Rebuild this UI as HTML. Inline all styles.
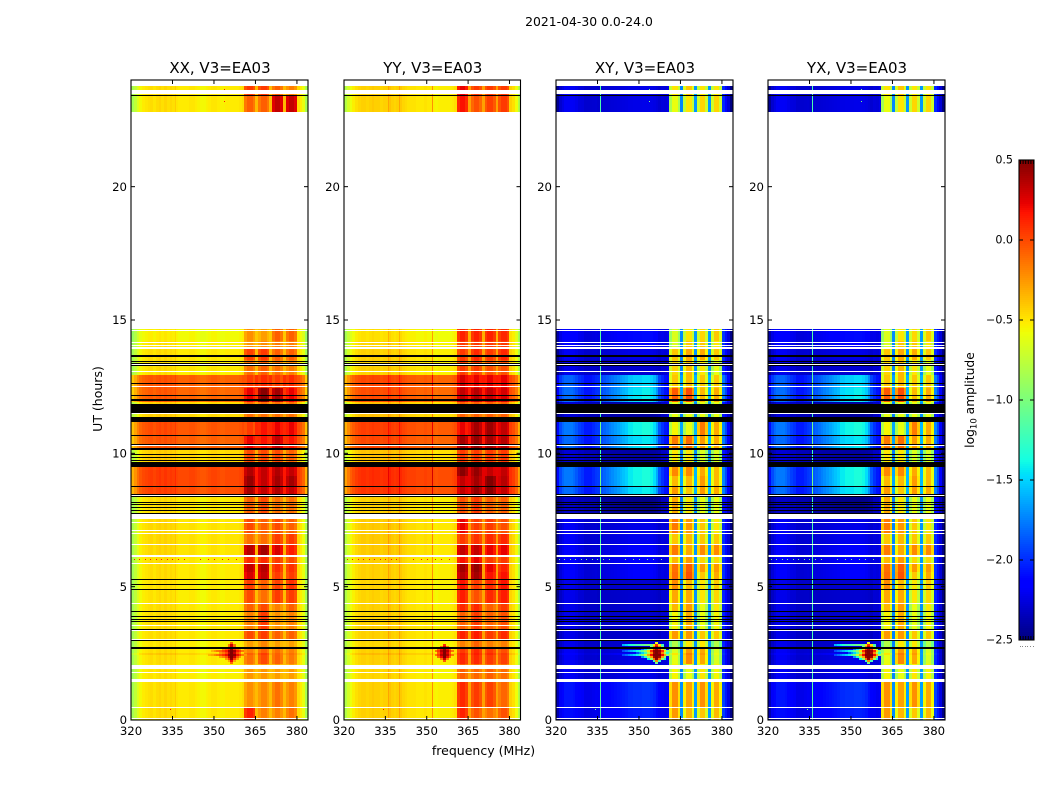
<!DOCTYPE html>
<html lang="en">
<head>
<meta charset="utf-8">
<title>2021-04-30 0.0-24.0</title>
<style>
html,body{margin:0;padding:0;background:#fff;width:1050px;height:800px;overflow:hidden}
svg{display:block}
text{font-family:"DejaVu Sans","Liberation Sans",sans-serif;fill:#000}
</style>
</head>
<body>
<svg id="chart" xmlns="http://www.w3.org/2000/svg" width="1050" height="800" viewBox="0 0 1050 800">
<rect x="0" y="0" width="1050" height="800" fill="#fff"/>
<text x="589" y="26" font-size="12.4" text-anchor="middle">2021-04-30 0.0-24.0</text>
<text x="102" y="399" font-size="12.5" text-anchor="middle" transform="rotate(-90 102 399)">UT (hours)</text>
<text x="483.5" y="755" font-size="12.5" text-anchor="middle">frequency (MHz)</text>
<text x="974" y="400" font-size="12.3" text-anchor="middle" transform="rotate(-90 974 400)">log<tspan font-size="8.5" dy="2.5">10</tspan><tspan dy="-2.5"> amplitude</tspan></text>
<g id="panels"></g>
<g id="colorbar"></g>
</svg>
<script>
// ---------- value-axis range ----------
const colorMin = -2.5;
const colorMax = 0.5;
const colorbarTicks = [0.5, 0, -0.5, -1, -1.5, -2, -2.5];
const freqMin = 320;
const freqMax = 384;
const hourMin = 0;
const hourMax = 24;
const freqTicks = [320, 335, 350, 365, 380];
const hourTicks = [0, 5, 10, 15, 20];
const panelTitles = ['XX, V3=EA03', 'YY, V3=EA03', 'XY, V3=EA03', 'YX, V3=EA03'];

// ---------- spectra: one value per 1 MHz channel, 320..383 ----------
const xxSpectrum = [
 -.85,-.75,-.64,-.56,-.52,-.5,-.48,-.47,-.5,-.47,
 -.45,-.48,-.45,-.48,-.46,-.48,-.5,-.52,-.52,-.52,
 -.52,-.5,-.5,-.52,-.54,-.56,-.56,-.54,-.52,-.5,
 -.5,-.52,-.54,-.54,-.52,-.52,-.52,-.52,-.52,-.5,
 -.47,0,0,0,0,-.36,0,0,0,0,
 -.36,0,0,0,0,-.36,0,0,0,0,
 -.47,-.52,-.6,-.85];
const yySpectrum = [
 -.8,-.68,-.59,-.53,-.48,-.45,-.43,-.43,-.45,-.43,
 -.41,-.43,-.43,-.45,-.43,-.43,-.39,-.43,-.45,-.43,
 -.41,-.45,-.47,-.49,-.49,-.49,-.51,-.51,-.51,-.49,
 -.51,-.51,-.53,-.55,-.53,-.53,-.53,-.53,-.53,-.51,
 -.48,0,0,0,0,-.28,0,0,0,0,
 -.28,0,0,0,0,-.28,0,0,0,0,
 -.43,-.48,-.58,-.8];
const crossSpectrum = [
 -2.5,-2.35,-2.3,-2.25,-2.25,-2.25,-2.25,-2.27,-2.3,-2.3,
 -2.33,-2.33,-2.33,-2.33,-2.33,-2.35,-2.35,-2.35,-2.35,-2.35,
 -2.35,-2.35,-2.35,-2.35,-2.35,-2.35,-2.35,-2.35,-2.35,-2.35,
 -2.35,-2.35,-2.35,-2.35,-2.35,-2.35,-2.35,-2.35,-2.3,-2.3,
 -2.25,0,0,0,0,-1.75,0,0,0,0,
 -1.7,0,0,0,0,-1.7,0,0,0,0,
 -2.05,-2.15,-2.3,-2.5];
const crossGain = [
 .5,.55,.6,.6,.6,.6,.55,.5,.45,.4,
 .35,.35,.35,.4,.45,.5,.6,.65,.7,.75,
 .8,.85,.9,.95,1,1.05,1.15,1.15,1.2,1.2,
 1.2,1.25,1.25,1.25,1.2,1.1,.9,.6,.4,.3,
 .2,0,0,0,0,.15,0,0,0,0,
 .15,0,0,0,0,.15,0,0,0,0,
 .4,.3,.2,.1];

// ---------- sub-bands in the strong-signal region ----------
const subbandStart = [361, 366, 371, 376];
const subbandWidth = 4;
const crossBandShape = [-.25, 0, 0, -.25];
const parallelBandShape = [-.05, .03, .03, -.05];

// ---------- time segments (hours) ----------
const rowStart = [0,.45,1.45,2.1,2.44,2.52,2.72,3.0,3.4,4.07,4.37,4.9,5.28,5.55,5.87,6.17,6.58,7.0,7.53,8.47,8.76,9.15,9.5,10.2,10.67,11.2,11.5,11.94,12.45,12.93,13.5,13.95,14.2,22.8,23.43];
const rowEnd = [.45,1.45,2.1,2.44,2.52,2.72,3.0,3.4,4.07,4.37,4.9,5.28,5.55,5.87,6.17,6.58,7.0,7.53,8.47,8.76,9.15,9.5,10.2,10.67,11.2,11.5,11.94,12.45,12.93,13.5,13.95,14.2,14.66,23.43,23.77];
const parallelLevel = [0,0,-.02,0,.07,0,-.02,0,0,0,-.01,-.01,0,0,0,.02,.02,.02,0,.5,.52,.52,.05,.44,.47,.05,.05,.42,.44,0,0,-.02,-.05,0,0];
const crossLevel = [.25,.3,.1,.1,.18,.1,.05,.05,.05,.05,.05,.05,.15,.15,.15,.15,.12,.1,-.1,.75,.8,.8,-.05,.73,.8,-.05,-.05,.75,.7,.05,.1,.15,.2,.1,.1];
const xxBands = [
 [.1,-.2,-.2,-.15],[-.25,-.22,-.15,-.2],[-.28,-.28,-.3,-.3],[-.15,-.03,-.1,-.18],[-.1,.02,-.1,-.15],
 [-.2,-.1,-.15,-.2],[-.3,-.22,-.3,-.3],[-.03,.02,-.1,-.1],[-.2,.02,-.25,-.2],[-.1,-.03,-.2,-.1],
 [-.03,-.15,.02,.02],[.02,-.1,0,.05],[.25,.3,.02,.02],[.3,.33,.07,.05],[.07,.07,.02,-.03],
 [.33,.38,.25,.12],[-.15,-.15,.02,.02],[-.03,-.1,-.03,-.1],[-.1,-.03,-.15,-.15],[.38,.3,.35,.3],
 [.42,.3,.38,.38],[.35,.3,.35,.3],[-.03,-.03,-.03,-.1],[.2,.15,.3,.15],[.02,.15,.2,.2],
 [-.15,-.15,-.15,-.15],[-.15,-.15,-.15,-.15],[.2,.45,.38,.2],[.02,.07,.02,.07],[-.15,-.1,-.15,-.2],
 [0,.02,-.1,-.1],[-.28,-.25,-.2,-.2],[-.25,-.3,-.1,-.1],[-.1,-.1,.3,.3],[.02,.02,-.1,-.2]];
const yyBands = [
 [.1,-.05,-.15,-.05],[.08,.02,0,-.12],[-.1,-.12,-.1,-.15],[.08,.08,.02,0],[.1,.12,.08,.02],
 [.02,.08,.02,-.05],[-.2,-.1,-.2,-.2],[.1,.12,.02,.08],[-.1,.02,-.1,-.05],[.08,.08,-.1,.02],
 [.12,-.05,.08,.12],[.15,.02,.08,.15],[.33,.38,.15,.15],[.38,.42,.2,.1],[.15,.2,.02,.02],
 [.3,.3,.2,.2],[.02,.05,.08,.08],[.2,.02,.02,-.05],[-.05,.02,-.1,-.1],[.3,.42,.45,.3],
 [.3,.38,.48,.33],[.45,.42,.3,.3],[.02,.02,.02,.02],[.38,.42,.38,.33],[.2,.38,.4,.3],
 [-.1,-.1,-.1,-.1],[-.1,-.1,-.1,-.1],[.3,.33,.3,.25],[.25,.2,.2,.2],[.02,.02,-.05,-.05],
 [.02,.08,.02,.08],[.02,.02,.02,.02],[.1,.1,.1,.08],[.15,-.05,0,.02],[.2,.02,.02,.02]];
const crossBands = [
 [-.25,-.35,-.4,-.35],[-.22,-.28,-.22,-.3],[-.55,-.6,-.5,-.55],[-.6,-.2,-.3,-.65],[-.5,-.15,-.25,-.6],
 [-.65,-.25,-.3,-.65],[-.8,-.5,-.5,-.8],[-.25,-.25,-.4,-.4],[-.55,-.3,-.6,-.55],[-.35,-.25,-.6,-.5],
 [-.3,-.3,-.5,-.45],[-.2,-.35,-.5,-.4],[-.1,-.02,-.4,-.3],[-.12,-.05,-.25,-.25],[-.35,-.25,-.45,-.45],
 [-.15,-.3,-.2,-.2],[-.4,-.35,-.4,-.4],[-.15,-.25,-.4,-.5],[-.3,-.5,-.6,-.6],[-.25,-.4,-.25,-.3],
 [-.35,-.35,-.25,-.35],[-.2,-.2,-.3,-.35],[-.5,-.5,-.65,-.65],[-.15,-.1,-.25,-.3],[-.55,-.6,-.15,-.3],
 [-.6,-.6,-.6,-.6],[-.6,-.6,-.6,-.6],[-.05,0,-.35,-.3],[-.4,-.35,-.4,-.4],[-.45,-.35,-.5,-.6],
 [-.4,-.3,-.3,-.4],[-.65,-.4,-.4,-.5],[-.65,-.5,-.45,-.4],[-.6,-.5,-.45,-.45],[-.5,-.4,-.5,-.5]];

// ---------- narrow interference lines: frequency and value change ----------
const xxSpikeFreqs = [336];
const xxSpikeDeltas = [.08];
const yySpikeFreqs = [336, 340, 352];
const yySpikeDeltas = [.1, .12, .3];
const crossSpikeFreqs = [336];
const crossSpikeValues = [-1.2];

// ---------- isolated specks ----------
const speckFreqs = [321,323,325,327,329,331,333,335,337,339,345,348,350,353,355,358,353.5,353.5,334];
const speckHours = [6.02,6.02,6.02,6.02,6.02,6.02,6.02,6.02,6.02,6.02,6.02,6.02,6.02,6.02,6.02,6.02,23.65,23.2,.41];

// ---------- burst of emission near 2.5 h ----------
const _ = null;
const burstCenter = 356.4;
const burstRowHeight = .075;
const burstRowHours = [2.1,2.175,2.25,2.325,2.4,2.475,2.55,2.625,2.7,2.775,2.85];
const xxBurstOffsets = [-8,-7,-6,-5,-4,-3,-2,-1,0,1,2,3,4,5];
const xxBurst = [
 [_,_,_,_,_,_,_,_,-.1,_,_,_,_,_],
 [_,_,_,_,_,_,_,-.3,.2,-.3,_,_,_,_],
 [_,_,_,_,_,_,-.25,.05,.45,.05,-.25,_,_,_],
 [_,_,_,_,-.3,-.2,-.05,.3,.5,.3,-.05,-.25,_,_],
 [-.35,-.3,-.2,-.12,-.02,.08,.2,.45,.5,.45,.2,.05,-.15,-.25],
 [_,_,_,_,-.25,-.15,0,.3,.5,.3,0,-.15,_,_],
 [_,-.35,-.25,-.15,-.1,.02,.15,.4,.5,.4,.15,.02,-.15,_],
 [_,_,_,_,_,-.25,-.1,.1,.45,.1,-.1,-.25,_,_],
 [_,_,_,_,_,_,_,-.1,.3,-.1,_,_,_,_],
 [_,_,_,_,_,_,_,-.15,.3,-.15,_,_,_,_],
 [_,_,_,_,_,_,_,_,-.1,_,_,_,_,_]];
const yyBurstOffsets = [-3,-2,-1,0,1,2,3];
const yyBurst = [
 [_,_,_,_,_,_,_],
 [_,_,_,-.05,_,_,_],
 [_,_,-.15,.3,-.15,_,_],
 [_,-.1,.2,.5,.2,-.1,_],
 [-.15,.05,.35,.5,.35,.05,-.15],
 [_,-.05,.25,.5,.25,-.05,_],
 [-.15,.05,.35,.5,.35,.05,-.15],
 [_,-.1,.2,.45,.2,-.1,_],
 [_,_,-.1,.3,-.1,_,_],
 [_,_,_,.1,_,_,_],
 [_,_,_,_,_,_,_]];
const crossBurstOffsets = [-12,-11,-10,-9,-8,-7,-6,-5,-4,-3,-2,-1,0,1,2,3,4];
const crossBurst = [
 [_,_,_,_,_,_,_,_,_,_,_,_,-1,_,_,_,_],
 [_,_,_,_,_,_,_,_,_,_,_,-1.2,-.2,-1.2,_,_,_],
 [_,_,_,_,_,_,_,_,_,-1.4,-.9,-.1,.45,-.1,-.9,-1.4,_],
 [_,_,_,_,_,_,_,-1.7,-1.3,-.8,-.3,.4,.5,.4,-.3,-1,_],
 [-1.9,-1.8,-1.7,-1.6,-1.5,-1.4,-1.2,-1,-.7,-.3,.2,.5,.5,.5,.2,-.3,-.9],
 [_,_,_,_,_,-1.9,-1.7,-1.5,-1.2,-.8,-.2,.4,.5,.4,-.2,-.8,-1.3],
 [-1.9,-1.8,-1.7,-1.6,-1.5,-1.4,-1.3,-1.1,-.9,-.5,.1,.45,.5,.45,.1,-.5,-1],
 [_,_,_,_,_,_,_,-1.8,-1.5,-1.1,-.5,.1,.4,.1,-.5,-1.1,_],
 [_,_,_,_,_,_,_,_,_,_,-1,-.2,.3,-.2,-1,_,_],
 [-1.6,-1.5,-1.4,-1.3,-1.25,-1.2,-1.15,-1.1,-1.05,-1,-1,-.5,.1,-.5,-1.2,_,_],
 [_,_,_,_,_,_,_,_,_,_,_,_,-.6,_,_,_,_]];

// ---------- flagged time ranges [start, end] hours ----------
const blackFlags = [[2.67,2.73],[2.95,2.99],[3.38,3.42],[3.68,3.72],[3.75,3.79],[3.86,3.9],[4.05,4.09],[4.88,4.92],[5.06,5.1],[5.24,5.3],[7.73,7.77],[7.84,7.88],[7.94,7.98],[8.05,8.09],[8.15,8.19],[8.36,8.4],[8.44,8.48],[8.74,8.78],[9.48,9.68],[9.71,9.75],[9.83,9.87],[9.94,9.98],[10.13,10.2],[10.31,10.35],[10.65,10.69],[11.17,11.35],[11.5,11.85],[11.98,12.02],[12.14,12.18],[12.6,12.64],[13.28,13.32],[13.35,13.39],[13.41,13.45],[13.62,13.7],[23.41,23.45]];
const whiteFlags = [[.05,.09],[.45,.49],[1.43,1.52],[1.76,1.8],[1.9,2.08],[3,3.04],[3.34,3.38],[3.53,3.57],[4.35,4.39],[5.85,5.89],[6.1,6.14],[6.15,6.19],[6.56,6.6],[6.98,7.02],[7.08,7.12],[7.39,7.43],[7.53,7.72],[8.12,8.16],[8.4,8.44],[10.28,10.32],[11.48,11.52],[12.49,12.53],[13.04,13.08],[13.31,13.35],[13.93,13.97],[14.01,14.05],[14.13,14.17],[14.59,14.63],[23.46,23.62]];

// ---------- layout ----------
const plotTop = 80;
const plotBottom = 720;
const panelLeft = [131, 344, 556, 768];
const panelRight = [308, 520.5, 733, 945];
const cbLeft = 1019, cbRight = 1034, cbTop = 160, cbBottom = 640;
const SVGNS = 'http://www.w3.org/2000/svg';

function lerpStops(t, xs, ys) {
  for (let i = 1; i < xs.length; i++) {
    if (t <= xs[i]) return ys[i-1] + (ys[i]-ys[i-1]) * (t-xs[i-1]) / (xs[i]-xs[i-1]);
  }
  return ys[ys.length-1];
}
function jet(v) {
  const t = Math.max(0, Math.min(1, (v - colorMin) / (colorMax - colorMin)));
  const r = lerpStops(t, [0,.35,.66,.89,1], [0,0,1,1,.5]);
  const g = lerpStops(t, [0,.125,.375,.64,.91,1], [0,0,1,1,0,0]);
  const b = lerpStops(t, [0,.11,.34,.65,1], [.5,1,1,0,0]);
  return 'rgb(' + Math.round(r*255) + ',' + Math.round(g*255) + ',' + Math.round(b*255) + ')';
}
function xScale(p, f) { return panelLeft[p] + (f - freqMin) / (freqMax - freqMin) * (panelRight[p] - panelLeft[p]); }
function yScale(h) { return plotBottom - (h - hourMin) / (hourMax - hourMin) * (plotBottom - plotTop); }
function bandOf(f) {
  for (let i = 0; i < subbandStart.length; i++) {
    if (f >= subbandStart[i] && f < subbandStart[i] + subbandWidth) return i;
  }
  return -1;
}
function cellValue(p, ch, r) {
  const f = freqMin + ch;
  const b = bandOf(f);
  if (p === 0) return b >= 0 ? xxBands[r][b] + parallelBandShape[f - subbandStart[b]] : xxSpectrum[ch] + parallelLevel[r];
  if (p === 1) return b >= 0 ? yyBands[r][b] + parallelBandShape[f - subbandStart[b]] : yySpectrum[ch] + parallelLevel[r];
  if (b >= 0) return crossBands[r][b] + crossBandShape[f - subbandStart[b]];
  return crossSpectrum[ch] + crossGain[ch] * crossLevel[r];
}
function addRect(parent, x0, x1, y0, y1, fill) {
  const el = document.createElementNS(SVGNS, 'rect');
  const xa = Math.round(x0), xb = Math.round(x1), ya = Math.round(y0), yb = Math.round(y1);
  el.setAttribute('x', xa);
  el.setAttribute('y', ya);
  el.setAttribute('width', Math.max(1, xb - xa));
  el.setAttribute('height', Math.max(1, yb - ya));
  el.setAttribute('fill', fill);
  el.setAttribute('shape-rendering', 'crispEdges');
  parent.appendChild(el);
  return el;
}
function addLine(parent, x1, y1, x2, y2, color, width) {
  const el = document.createElementNS(SVGNS, 'line');
  el.setAttribute('x1', x1);
  el.setAttribute('y1', y1);
  el.setAttribute('x2', x2);
  el.setAttribute('y2', y2);
  el.setAttribute('stroke', color || '#000');
  el.setAttribute('stroke-width', width || 1);
  parent.appendChild(el);
  return el;
}
function addText(parent, x, y, str, anchor, size) {
  const el = document.createElementNS(SVGNS, 'text');
  el.setAttribute('x', x);
  el.setAttribute('y', y);
  el.setAttribute('text-anchor', anchor);
  el.setAttribute('font-size', size);
  el.textContent = str;
  parent.appendChild(el);
  return el;
}

function drawPanel(p) {
  const root = document.getElementById('panels');
  const g = document.createElementNS(SVGNS, 'g');
  
  
  root.appendChild(g);

  // heatmap cells
  for (let r = 0; r < rowStart.length; r++) {
    for (let ch = 0; ch < freqMax - freqMin; ch++) {
      const cell = addRect(g, xScale(p, freqMin + ch), xScale(p, freqMin + ch + 1), yScale(rowEnd[r]), yScale(rowStart[r]), jet(cellValue(p, ch, r)));
      
      
    }
    // narrow interference lines
    const freqs = p === 0 ? xxSpikeFreqs : p === 1 ? yySpikeFreqs : crossSpikeFreqs;
    for (let s = 0; s < freqs.length; s++) {
      const ch = Math.floor(freqs[s]) - freqMin;
      let val;
      if (p === 0) val = xxSpectrum[ch] + parallelLevel[r] + xxSpikeDeltas[s];
      else if (p === 1) val = yySpectrum[ch] + parallelLevel[r] + yySpikeDeltas[s];
      else val = crossSpikeValues[s] + crossLevel[r] * 0.2;
      const sx = xScale(p, freqs[s]);
      const spike = addRect(g, sx, sx + 1, yScale(rowEnd[r]), yScale(rowStart[r]), jet(val));
      
      
    }
  }

  // burst
  const burst = p === 0 ? xxBurst : p === 1 ? yyBurst : crossBurst;
  const offsets = p === 0 ? xxBurstOffsets : p === 1 ? yyBurstOffsets : crossBurstOffsets;
  for (let r = 0; r < burst.length; r++) {
    for (let c = 0; c < offsets.length; c++) {
      if (burst[r][c] === null) continue;
      const f = burstCenter + offsets[c];
      const cell = addRect(g, xScale(p, f - .5), xScale(p, f + .5), yScale(burstRowHours[r] + burstRowHeight), yScale(burstRowHours[r]), jet(burst[r][c]));
      
      
    }
  }

  // specks
  for (let s = 0; s < speckFreqs.length; s++) {
    if (p === 1 && speckHours[s] > 7) continue;
    const sx = xScale(p, speckFreqs[s]);
    const sy = yScale(speckHours[s]);
    const speck = addRect(g, sx, sx + 1, sy, sy + 1, jet(p < 2 ? .15 : -1));
    
    
  }

  // flagged ranges
  whiteFlags.forEach(function (fl) {
    const el = addRect(g, panelLeft[p], panelRight[p], yScale(fl[1]), yScale(fl[0]), '#fff');
    
    
  });
  blackFlags.forEach(function (fl) {
    const el = addRect(g, panelLeft[p], panelRight[p], yScale(fl[1]), yScale(fl[0]), '#000');
    
    
  });

  // frame
  const frame = document.createElementNS(SVGNS, 'rect');
  
  
  frame.setAttribute('x', panelLeft[p]);
  frame.setAttribute('y', plotTop);
  frame.setAttribute('width', panelRight[p] - panelLeft[p]);
  frame.setAttribute('height', plotBottom - plotTop);
  frame.setAttribute('fill', 'none');
  frame.setAttribute('stroke', '#000');
  frame.setAttribute('stroke-width', '1.1');
  g.appendChild(frame);

  // ticks and labels
  freqTicks.forEach(function (f) {
    const x = xScale(p, f);
    const t1 = addLine(g, x, plotBottom, x, plotBottom - 4);
    
    
    const t2 = addLine(g, x, plotTop, x, plotTop + 4);
    
    
    const label = addText(g, x, 735, String(f), 'middle', 11.7);
    
    
  });
  hourTicks.forEach(function (h) {
    const y = yScale(h);
    const t1 = addLine(g, panelLeft[p], y, panelLeft[p] + 4, y);
    
    
    const t2 = addLine(g, panelRight[p], y, panelRight[p] - 4, y);
    
    
    const label = addText(g, panelLeft[p] - 4, y + 4.2, String(h), 'end', 11.7);
    
    
  });
  const title = addText(g, (panelLeft[p] + panelRight[p]) / 2 + .5, 73, panelTitles[p], 'middle', 15);
  
  
}

function drawColorbar() {
  const g = document.getElementById('colorbar');
  const cbScale = function (v) { return cbBottom - (v - colorMin) / (colorMax - colorMin) * (cbBottom - cbTop); };
  for (let py = cbTop; py < cbBottom; py += 2) {
    const seg = addRect(g, cbLeft, cbRight, py, py + 2, jet(colorMax - (py + 1 - cbTop) / (cbBottom - cbTop) * (colorMax - colorMin)));
    
    
  }
  const frame = document.createElementNS(SVGNS, 'rect');
  
  
  frame.setAttribute('x', cbLeft);
  frame.setAttribute('y', cbTop);
  frame.setAttribute('width', cbRight - cbLeft);
  frame.setAttribute('height', cbBottom - cbTop);
  frame.setAttribute('fill', 'none');
  frame.setAttribute('stroke', '#000');
  frame.setAttribute('stroke-width', '1.1');
  g.appendChild(frame);
  colorbarTicks.forEach(function (v) {
    const y = cbScale(v);
    const t1 = addLine(g, cbLeft, y, cbLeft + 4, y);
    
    
    const t2 = addLine(g, cbRight, y, cbRight - 4, y);
    
    
    const label = addText(g, 1013, y + 3.5, (v < 0 ? '\u2212' : '') + Math.abs(v).toFixed(1), 'end', 11.1);
    
    
  });
  for (let i = 0; i < 6; i++) {
    const x = cbLeft + 1.5 + i * 2.6;
    const t1 = addLine(g, x, cbTop, x, cbTop + 4);
    
    
    const t2 = addLine(g, x, cbBottom, x, cbBottom - 4);
    
    
    const dot = addRect(g, x - 1, x, 646, 647, '#888');
    
    
  }
}

for (let p = 0; p < panelTitles.length; p++) drawPanel(p);
drawColorbar();
</script>
</body>
</html>
